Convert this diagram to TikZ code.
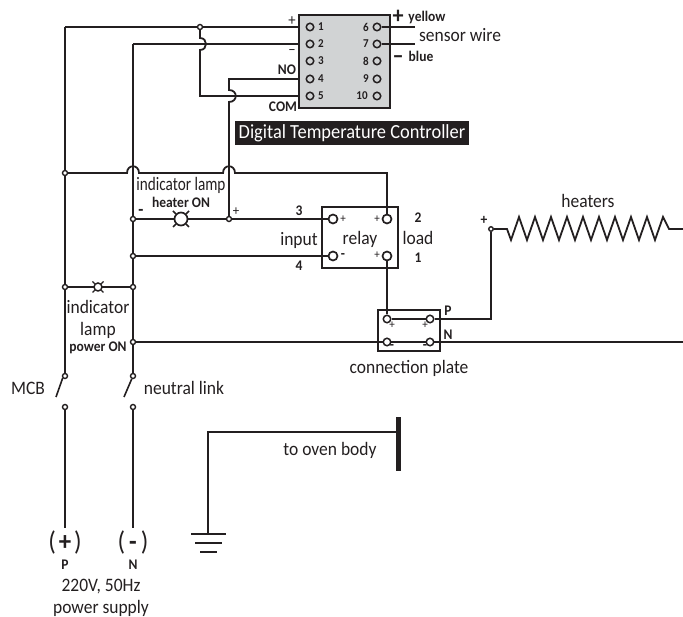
\documentclass[tikz,border=0pt]{standalone}
\usepackage{graphicx}
\usepackage{fontspec}
\setmainfont[FakeStretch=0.92]{Carlito}
\definecolor{ink}{HTML}{231F20}
\definecolor{panel}{HTML}{D1D3D4}
\tikzset{
 wire/.style={draw=ink,line width=1.8pt},
 term/.style={circle,draw=ink,line width=1.7pt,fill=white,inner sep=0pt,minimum size=9pt},
 joint/.style={circle,draw=ink,line width=1.4pt,fill=white,inner sep=0pt,minimum size=5pt},
 lab/.style={inner sep=0pt,text=ink,font=\fontsize{19}{19}\selectfont},
 bold/.style={inner sep=0pt,text=ink,font=\fontsize{14.7}{14.7}\selectfont\bfseries},
 num/.style={inner sep=0pt,text=ink,font=\fontsize{12}{12}\selectfont},
 tnum/.style={inner sep=0pt,text=ink,font=\fontsize{12}{12}\selectfont\bfseries},
 frame/.style={draw=ink,line width=1.8pt},
 lampb/.style={circle,draw=ink,line width=1.7pt,fill=white,inner sep=0pt},
}
\begin{document}
\begin{tikzpicture}[x=1pt,y=-1pt]
\useasboundingbox (0,0) rectangle (683,617);
% controller
\node[frame,fill=panel,minimum width=91pt,minimum height=93pt,inner sep=0pt] (ctrl) at (344.5,61.5) {};
\foreach \n/\y in {1/27,2/44,3/61,4/79,5/96}{
 \node[term,minimum size=7.5pt,fill=panel,line width=1.5pt] (c\n) at (310,\y) {};
 \node[tnum] (cn\n) at (321,\y) {\n};
}
\foreach \n/\y in {6/27,7/44,8/61,9/79,10/96}{
 \node[term,minimum size=7.5pt,fill=panel,line width=1.5pt] (c\n) at (377,\y) {};
}
\foreach \n/\y in {6/27,7/44,8/61,9/79}{\node[tnum] (cn\n) at (366,\y) {\n};}
\node[tnum] (cn10) at (362,96) {10};
% coordinates
\coordinate (l27) at (65,27);
\coordinate (n44) at (133,44);
\coordinate (edgeB) at (683,342);
\coordinate (s1) at (415,27);
\coordinate (s2) at (415,44);
% nodes
\node[joint] (j200) at (200,27) {};
\node[joint] (j65a) at (65,173) {};
\node[joint] (j65b) at (65,287) {};
\node[joint] (j133a) at (133,219) {};
\node[joint] (j133b) at (133,256) {};
\node[joint] (j133c) at (133,287) {};
\node[joint] (j133d) at (133,342) {};
\node[joint] (j229) at (229,219) {};
\node[joint] (t65) at (65,376) {};
\node[joint] (t133) at (133,376) {};
\node[joint] (b65) at (65,407) {};
\node[joint] (b133) at (133,407) {};
% relay
\node[frame,minimum width=76pt,minimum height=61pt,inner sep=0pt] (relay) at (360,237.5) {};
% plate
\node[frame,minimum width=62pt,minimum height=41pt,inner sep=0pt] (plate) at (409,330.5) {};
% wires
\draw[wire] (l27) -- (j200) -- (ctrl.west |- c1);
\draw[wire] (n44) -- (ctrl.west |- c2);
\draw[wire] (j200) -- (200,38) .. controls (208,38) and (208,50) .. (200,50) -- (200,96) -- (222,96) -- (ctrl.west |- c5);
\draw[wire] (ctrl.west |- c4) -- (229,79) -- (229,90) .. controls (238,90) and (238,102) .. (229,102) -- (j229);
\draw[wire] (c6) -- (s1);
\draw[wire] (c7) -- (s2);
\draw[wire] (l27) -- (j65a) -- (j65b) -- (t65);
\draw[wire] (n44) -- (j133a) -- (j133b) -- (j133c) -- (j133d) -- (t133);
\draw[wire] (j65a) -- (127,173) .. controls (127,164) and (139,164) .. (139,173) -- (223,173) .. controls (223,164) and (235,164) .. (235,173) -- (387,173) -- (387,214);
\draw[wire] (j133a) -- (j229) -- (relay.west |- j229) -- (328,219);
\draw[wire] (j133b) -- (328,256);
\draw[wire] (j65b) -- (j133c);
\draw[wire] (j133d) -- (edgeB);
\draw[wire] (b65) -- (65,528);
\draw[wire] (b133) -- (133,528);
\draw[wire,line width=1.6pt] (62.7,378) -- (56,397);
\draw[wire,line width=1.6pt] (131.7,379) -- (124,397);
% relay and plate terminals
\node[term] (r1) at (333,219) {};
\node[term] (r2) at (387,219) {};
\node[term] (r3) at (333,256) {};
\node[term] (r4) at (387,256) {};
\node[term,minimum size=7.5pt,line width=1.5pt] (p1) at (387,319) {};
\node[term,minimum size=7.5pt,line width=1.5pt] (p2) at (430,319) {};
\node[term,minimum size=7.5pt,line width=1.5pt] (p3) at (387,342) {};
\node[term,minimum size=7.5pt,line width=1.5pt] (p4) at (430,342) {};
\node[joint,minimum size=4.5pt] (hs) at (491,229) {};
\draw[wire] (r4) -- (p1);
\draw[wire] (p1) -- (p2) -- (491,319) -- (hs);
\draw[wire,line join=miter] (hs) -- (507,229)
 \foreach \i in {0,...,9}{ -- ({511+16*\i},240) -- ({519+16*\i},217) } -- (669,229) -- (683,229);
% lamps
\node[lampb,minimum size=13pt] (lamp1) at (181,219) {};
\draw[wire,line width=1.5pt] (173,211) -- (lamp1.135);
\draw[wire,line width=1.5pt] (189,211) -- (lamp1.45);
\draw[wire,line width=1.5pt] (173,227) -- (lamp1.225);
\draw[wire,line width=1.5pt] (189,227) -- (lamp1.315);
\node[lampb,minimum size=8pt,line width=1.5pt] (lamp2) at (98,287) {};
\draw[wire,line width=1.4pt] (92.5,281.5) -- (lamp2.135);
\draw[wire,line width=1.4pt] (103.5,281.5) -- (lamp2.45);
\draw[wire,line width=1.4pt] (92.5,292.5) -- (lamp2.225);
\draw[wire,line width=1.4pt] (103.5,292.5) -- (lamp2.315);
% earth
\coordinate (g0) at (208,534);
\coordinate (g1) at (398,432);
\draw[wire] (g0) -- (g0 |- g1) -- (g1);
\node[fill=ink,minimum width=5pt,minimum height=54pt,inner sep=0pt] (bar) at (398.5,444) {};
\draw[wire] (191,534) -- (226,534);
\draw[wire] (195,543) -- (222,543);
\draw[wire] (200,552) -- (217,552);
% labels
\node[num,font=\fontsize{16}{16}\selectfont] (tp) at (292,21) {+};
\node[num,font=\fontsize{16}{16}\selectfont] (tm) at (292,52) {–};
\node[bold] (tno) at (287,70) {NO};
\node[bold] (tcom) at (283,107) {COM};
\node[bold,font=\fontsize{24}{24}\selectfont\bfseries] (typ) at (398,17) {+};
\node[bold] (tyel) at (427,18) {yellow};
\node[lab] (tsw) at (460,35) {sensor wire};
\node[bold,font=\fontsize{24}{24}\selectfont\bfseries] (tym) at (398,60) {–};
\node[bold] (tblu) at (421,56) {blue};
\node[fill=ink,text=white,minimum width=234pt,minimum height=24pt,inner sep=0pt,font=\fontsize{20}{20}\selectfont] (title) at (352,133) {Digital Temperature Controller};
\node[lab] (til) at (181,185) {\scalebox{0.87}[1]{indicator lamp}};
\node[bold] (the) at (181,202) {heater ON};
\node[bold,font=\fontsize{18}{18}\selectfont\bfseries] (tmin) at (141,212) {-};
\node[num,font=\fontsize{14}{14}\selectfont] (tpl) at (236,212) {+};
\node[bold] (t3) at (299,211) {3};
\node[bold] (t4) at (299,266) {4};
\node[lab] (tin) at (299,240) {input};
\node[lab] (trel) at (360,239) {relay};
\node[lab] (tlo) at (418,238) {load};
\node[bold] (t2) at (418,218) {2};
\node[bold] (t1) at (418,258) {1};
\node[num] (rp1) at (343,219) {+};
\node[num] (rp2) at (377,219) {+};
\node[num] (rp3) at (377,255) {+};
\node[bold] (rm) at (343,256) {-};
\node[num] (pp1) at (392,325) {+};
\node[num] (pp2) at (425,325) {+};
\node[bold] (pm1) at (392,347) {-};
\node[bold] (pm2) at (425,347) {-};
\node[bold] (tP) at (448,311) {P};
\node[bold] (tN) at (448,335) {N};
\node[lab] (tcp) at (409,368) {connection plate};
\node[lab] (thea) at (588,201) {heaters};
\node[bold] (thp) at (484,220) {+};
\node[lab] (ti2) at (98,307) {indicator};
\node[lab] (tl2) at (98,330) {lamp};
\node[bold] (tpo) at (98,348) {power ON};
\node[lab] (tmcb) at (28,388) {MCB};
\node[lab] (tnl) at (184,388) {neutral link};
\node[lab] (toven) at (330,450) {to oven body};
\node[lab,font=\fontsize{27}{27}\selectfont] (plusP) at (65,542) {(\hspace{3pt}\textbf{+}\hspace{3pt})};
\node[lab,font=\fontsize{27}{27}\selectfont] (minusN) at (133,542) {(\hspace{4pt}\textbf{-}\hspace{4pt})};
\node[bold] (tPP) at (65,565) {P};
\node[bold] (tNN) at (133,565) {N};
\node[lab] (tv) at (101,587) {220V, 50Hz};
\node[lab] (tps) at (101,608) {power supply};
\end{tikzpicture}
\end{document}
